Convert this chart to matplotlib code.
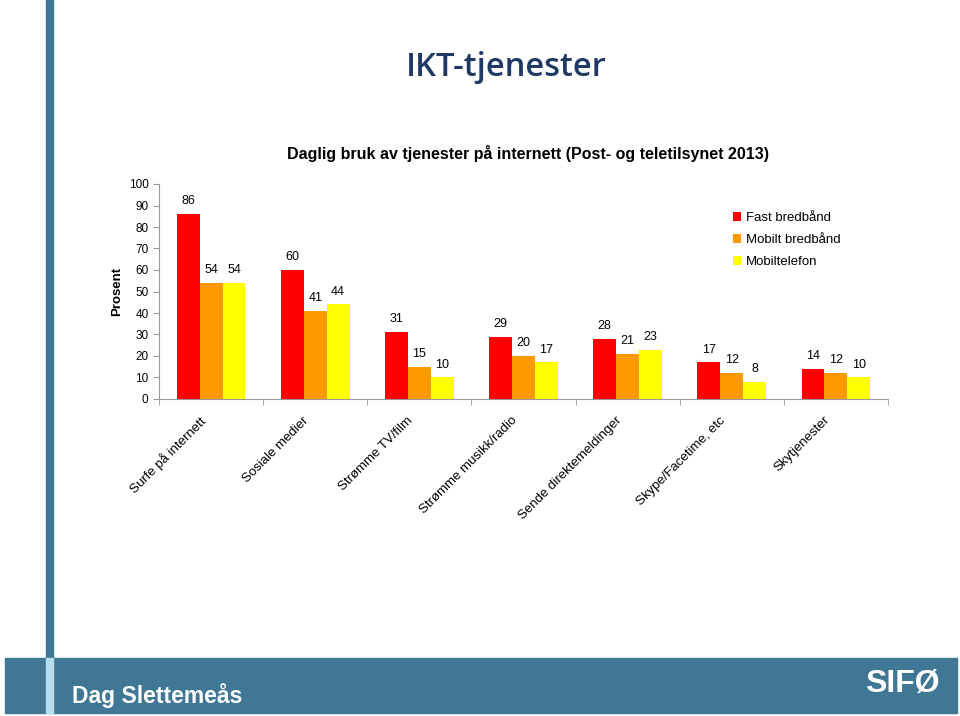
import numpy as np
import matplotlib.pyplot as plt
from matplotlib.patches import Rectangle
from matplotlib.transforms import ScaledTranslation

# Data (percent, daily use)
categories = ['Surfe på internett', 'Sosiale medier', 'Strømme TV/film',
              'Strømme musikk/radio', 'Sende direktemeldinger',
              'Skype/Facetime, etc', 'Skytjenester']
fast_bredbaand = [86, 60, 31, 29, 28, 17, 14]
mobilt_bredbaand = [54, 41, 15, 20, 21, 12, 12]
mobiltelefon = [54, 44, 10, 17, 23, 8, 10]
series_names = ['Fast bredbånd', 'Mobilt bredbånd', 'Mobiltelefon']
series_colors = ['#ff0000', '#ff9900', '#ffff00']

plt.rcParams['font.family'] = ['Liberation Sans', 'DejaVu Sans']

fig = plt.figure(figsize=(9.6, 7.16), dpi=100)

## slide decoration: vertical bar on the left and footer band
blue = '#3f7795'
fig.patches.append(Rectangle((46/960, 58/716), 7/960, 1 - 58/716, transform=fig.transFigure,
                             color=blue, zorder=0))
fig.patches.append(Rectangle((5/960, 3/716), 952/960, 55/716, transform=fig.transFigure,
                             color=blue, zorder=0))
fig.patches.append(Rectangle((46/960, 3/716), 7/960, 55/716, transform=fig.transFigure,
                             color='#b7dde8', zorder=1))
fig.text(72/960, 20/716, 'Dag Slettemeås', color='white', fontsize=16.5, fontweight='bold',
         va='center', ha='left')
fig.text(902/960, 32/716, 'SIFØ', color='white', fontsize=23, fontweight='bold',
         va='center', ha='center', fontstretch='condensed')

## titles
fig.text(506/960, 1 - 67/716, 'IKT-tjenester', color='#1f3864', fontsize=23.5,
         fontweight='semibold', family=['Open Sans', 'DejaVu Sans'], ha='center', va='center')
fig.text(528/960, 1 - 154/716, 'Daglig bruk av tjenester på internett (Post- og teletilsynet 2013)',
         fontsize=11.5, fontweight='bold', ha='center', va='center')

## chart
ax = fig.add_axes([159/960, 1 - 399/716, 729/960, 215/716])
x = np.arange(len(categories))
w = 0.22
for i, (vals, name, col) in enumerate(zip([fast_bredbaand, mobilt_bredbaand, mobiltelefon],
                                          series_names, series_colors)):
    pos = x + (i - 1) * w
    ax.bar(pos, vals, width=w, color=col, label=name, zorder=2)
    for p, v in zip(pos, vals):
        ax.text(p, v + 3.2, str(v), ha='center', va='bottom', fontsize=9)

ax.set_xlim(-0.5, len(categories) - 0.5)
ax.set_ylim(0, 100)
ax.set_yticks(range(0, 101, 10))
ax.set_xticks(x)
ax.set_xticklabels(categories, rotation=45, ha='right', va='top', rotation_mode='anchor',
                   fontsize=9.5)
ax.set_xticks(np.arange(-0.5, len(categories), 1), minor=True)
ax.tick_params(axis='x', which='major', length=0, pad=12)
ax.tick_params(axis='x', which='minor', length=4, color='#999999', direction='out')
ax.tick_params(axis='y', length=4, color='#999999', labelsize=8.5)
# nudge the slanted labels a little left, like the original slide
shift = ScaledTranslation(-9/72, 1/72, fig.dpi_scale_trans)
for lab in ax.get_xticklabels():
    lab.set_transform(lab.get_transform() + shift)
for s in ['top', 'right']:
    ax.spines[s].set_visible(False)
for s in ['left', 'bottom']:
    ax.spines[s].set_color('#999999')
ax.set_ylabel('Prosent', fontsize=9.5, fontweight='bold', labelpad=4)

ax.legend(loc='upper left', bbox_to_anchor=(0.78, 0.895), frameon=False, fontsize=9.5,
          handlelength=0.65, handleheight=0.65, handletextpad=0.35, labelspacing=0.75,
          borderaxespad=0)

fig.savefig('out.png', dpi=100)
